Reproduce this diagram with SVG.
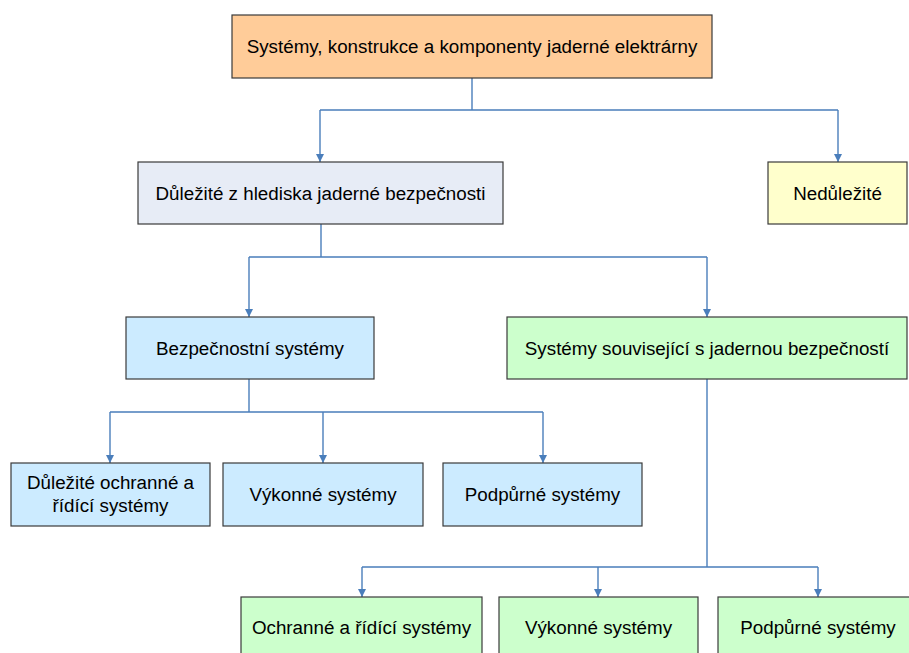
<svg xmlns="http://www.w3.org/2000/svg" width="909" height="653" viewBox="0 0 909 653">
<style>
.box{stroke:#3a3a3a;stroke-width:1.2}
.t{font-family:"Liberation Sans",Arial,sans-serif;font-size:18.8px;fill:#000;text-anchor:middle}
.c{fill:none;stroke:#4a7ebb;stroke-width:1.4}
.orange{fill:#FFCC99}.lav{fill:#E7ECF6}.yel{fill:#FFFFCC}.blue{fill:#CCEBFF}.green{fill:#CCFFCC}
</style>
<defs>
<marker id="ah" markerWidth="9" markerHeight="9" refX="8" refY="4" orient="auto" markerUnits="userSpaceOnUse" viewBox="0 0 9 9" overflow="visible">
<path d="M0,0 L8,4 L0,8 Z" fill="#4a7ebb"/>
</marker>
</defs>
<rect width="909" height="653" fill="#fff"/>
<g id="connectors">
<path class="c" d="M472,78 V110 M320,110 H838"/>
<path class="c" d="M320,110 V162" marker-end="url(#ah)"/>
<path class="c" d="M838,110 V162" marker-end="url(#ah)"/>
<path class="c" d="M321,224 V257 M249,257 H707"/>
<path class="c" d="M249,257 V317" marker-end="url(#ah)"/>
<path class="c" d="M707,257 V317" marker-end="url(#ah)"/>
<path class="c" d="M249,379 V412 M110,412 H543"/>
<path class="c" d="M110,412 V463" marker-end="url(#ah)"/>
<path class="c" d="M323,412 V463" marker-end="url(#ah)"/>
<path class="c" d="M543,412 V463" marker-end="url(#ah)"/>
<path class="c" d="M707,379 V567 M362,567 H818"/>
<path class="c" d="M362,567 V597" marker-end="url(#ah)"/>
<path class="c" d="M598,567 V597" marker-end="url(#ah)"/>
<path class="c" d="M818,567 V597" marker-end="url(#ah)"/>
</g>
<g id="n-root"><rect class="box orange" x="232" y="15" width="480" height="63"/><text class="t" x="472" y="53">Systémy, konstrukce a komponenty jaderné elektrárny</text></g>
<g id="n-dulezite"><rect class="box lav" x="138" y="162" width="365" height="62"/><text class="t" x="320.5" y="200">Důležité z hlediska jaderné bezpečnosti</text></g>
<g id="n-nedulezite"><rect class="box yel" x="768" y="162" width="139" height="62"/><text class="t" x="837.5" y="200">Nedůležité</text></g>
<g id="n-bezp"><rect class="box blue" x="126" y="317" width="248" height="62"/><text class="t" x="250" y="355">Bezpečnostní systémy</text></g>
<g id="n-souv"><rect class="box green" x="507" y="317" width="400" height="62"/><text class="t" x="707" y="355">Systémy související s jadernou bezpečností</text></g>
<g id="n-b-ochr"><rect class="box blue" x="11" y="463" width="199" height="63"/><text class="t" x="110.5" y="489">Důležité ochranné a</text><text class="t" x="110.5" y="512">řídící systémy</text></g>
<g id="n-b-vyk"><rect class="box blue" x="223" y="463" width="200" height="63"/><text class="t" x="323" y="501">Výkonné systémy</text></g>
<g id="n-b-podp"><rect class="box blue" x="443" y="463" width="199" height="63"/><text class="t" x="542.5" y="501">Podpůrné systémy</text></g>
<g id="n-s-ochr"><rect class="box green" x="241" y="597" width="241" height="70"/><text class="t" x="361.5" y="634">Ochranné a řídící systémy</text></g>
<g id="n-s-vyk"><rect class="box green" x="499" y="597" width="199" height="70"/><text class="t" x="598.5" y="634">Výkonné systémy</text></g>
<g id="n-s-podp"><rect class="box green" x="718" y="597" width="200" height="70"/><text class="t" x="818" y="634">Podpůrné systémy</text></g>
</svg>
